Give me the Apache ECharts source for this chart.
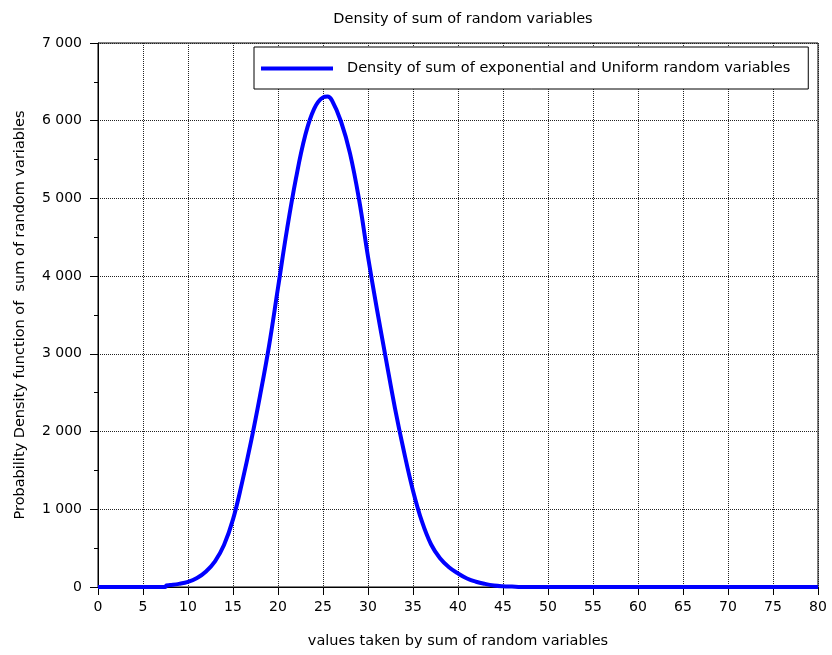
<!DOCTYPE html>
<html>
<head>
<meta charset="utf-8">
<script src="https://cdn.jsdelivr.net/npm/echarts@6/dist/echarts.min.js"></script>
<style>html,body{margin:0;padding:0;background:#fff;}#c{width:832px;height:655px;}</style>
</head>
<body>
<div id="c"></div>
<script>
const xValues = [0, 7.5, 7.6, 8, 9, 10, 11, 12, 13, 14, 15, 16, 17, 18, 19, 20, 21, 22, 23, 24, 25, 25.5, 26, 27, 28, 29, 30, 31, 32, 33, 34, 35, 36, 37, 38, 39, 40, 41, 42, 43, 44, 45, 46, 47, 80];
const densityValues = [0, 0, 20, 25, 40, 65, 115, 200, 330, 540, 870, 1340, 1870, 2460, 3100, 3850, 4600, 5260, 5800, 6150, 6300, 6310, 6260, 5990, 5580, 4990, 4250, 3570, 2930, 2300, 1740, 1240, 840, 550, 370, 255, 175, 110, 68, 40, 20, 10, 5, 0, 0];
const seriesName = 'Density of sum of exponential and Uniform random variables';
const titleText = 'Density of sum of random variables';
const xAxisName = 'values taken by sum of random variables';
const yAxisName = 'Probability Density function of  sum of random variables';

const FONT = 'DejaVu Sans';
const FS = 14.5;
const fmt = v => String(v).replace(/\B(?=(\d{3})+(?!\d))/g, ' ');
const chart = echarts.init(document.getElementById('c'), null, {renderer: 'canvas'});
chart.setOption({
  animation: false,
  backgroundColor: '#fff',
  title: {
    text: titleText, left: 458, top: 7, textAlign: 'center',
    textStyle: {fontFamily: FONT, fontSize: FS, fontWeight: 'normal', color: '#000'}
  },
  legend: {
    left: 254, top: 47,
    padding: [14, 18, 13, 7],
    backgroundColor: '#fff', borderColor: '#000', borderWidth: 1,
    itemWidth: 72, itemHeight: 14, itemGap: 10,
    textStyle: {fontFamily: FONT, fontSize: FS, color: '#000', padding: [0, 0, 0, 9]},
    data: [{name: seriesName, icon: 'path://M0,0 L72,0 L72,4 L0,4 Z', itemStyle: {color: '#0000ff'}}]
  },
  grid: {left: 98, right: 14, top: 43, bottom: 68, show: true, borderColor: '#000', borderWidth: 1, backgroundColor: 'transparent'},
  xAxis: {
    type: 'value', min: 0, max: 80, interval: 5,
    name: xAxisName, nameLocation: 'middle', nameGap: 47,
    nameTextStyle: {fontFamily: FONT, fontSize: FS, color: '#000'},
    axisLine: {show: true, onZero: false, lineStyle: {color: '#000', width: 1}},
    axisTick: {show: true, inside: false, length: 8, lineStyle: {color: '#000'}},
    axisLabel: {fontFamily: FONT, fontSize: 14, color: '#000', margin: 13},
    splitLine: {show: true, lineStyle: {color: '#222', type: [1, 1], width: 1}}
  },
  yAxis: {
    type: 'value', min: 0, max: 7000, interval: 1000,
    name: yAxisName, nameLocation: 'middle', nameGap: 70,
    nameTextStyle: {fontFamily: FONT, fontSize: FS, color: '#000'},
    axisLine: {show: true, lineStyle: {color: '#000', width: 1}},
    axisTick: {show: true, inside: false, length: 8, lineStyle: {color: '#000'}},
    minorTick: {show: true, splitNumber: 2, length: 4, lineStyle: {color: '#000'}},
    axisLabel: {fontFamily: FONT, fontSize: 14, color: '#000', margin: 16, formatter: fmt},
    splitLine: {show: true, lineStyle: {color: '#222', type: [1, 1], width: 1}}
  },
  series: [{
    name: seriesName, type: 'line', symbol: 'none', smooth: 0.4,
    lineStyle: {color: '#0000ff', width: 4},
    itemStyle: {color: '#0000ff'},
    data: xValues.map((x, i) => [x, densityValues[i]]),
    z: 5
  }]
});
</script>
</body>
</html>
